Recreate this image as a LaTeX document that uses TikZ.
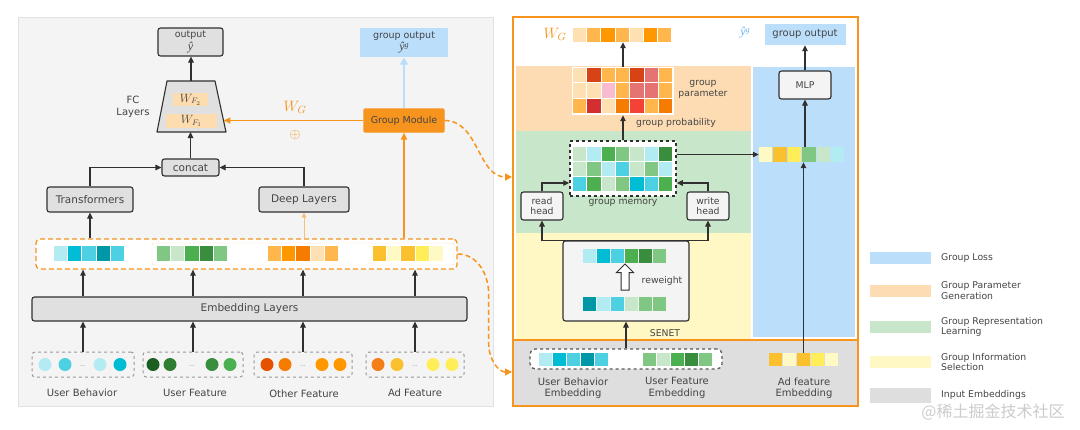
\RequirePackage{fix-cm}
\documentclass[tikz,border=0pt]{standalone}
\usepackage{fontspec}
\setmainfont{DejaVu Sans}
\newfontfamily\cjkfont{Noto Sans CJK SC}
\newfontfamily\yfont{Liberation Serif}
\usepackage{tikz}
\usetikzlibrary{shapes.geometric, shapes.arrows, arrows.meta, positioning, calc}

\definecolor{panelbg}{HTML}{F4F4F4}
\definecolor{panelline}{HTML}{E2E2E2}
\definecolor{boxfill}{HTML}{E0E0E0}
\definecolor{boxline}{HTML}{303030}
\definecolor{txt}{HTML}{444444}
\definecolor{grp}{HTML}{F7941D}
\definecolor{lossblue}{HTML}{BBDEFB}
\definecolor{paramor}{HTML}{FDDCB4}
\definecolor{reprgreen}{HTML}{C8E6C9}
\definecolor{infoyellow}{HTML}{FFF8C4}
\definecolor{inputgray}{HTML}{DEDEDE}
\definecolor{wfpeach}{HTML}{FDDDB0}
\definecolor{yhatblue}{HTML}{64B5F6}
% cell colours
\definecolor{cyA}{HTML}{B2EBF2}
\definecolor{cyB}{HTML}{00BCD4}
\definecolor{cyC}{HTML}{4DD0E1}
\definecolor{cyD}{HTML}{0097A7}
\definecolor{grA}{HTML}{C8E6C9}
\definecolor{grB}{HTML}{81C784}
\definecolor{grC}{HTML}{4CAF50}
\definecolor{grD}{HTML}{388E3C}
\definecolor{grE}{HTML}{1B5E20}
\definecolor{grF}{HTML}{2E7D32}
\definecolor{orA}{HTML}{FFE0B2}
\definecolor{orB}{HTML}{FFB74D}
\definecolor{orC}{HTML}{FF9800}
\definecolor{orD}{HTML}{F57C00}
\definecolor{orE}{HTML}{E65100}
\definecolor{ylA}{HTML}{FFF9C4}
\definecolor{ylB}{HTML}{FBC02D}
\definecolor{ylC}{HTML}{FFEE58}
\definecolor{ylD}{HTML}{F57F17}
\definecolor{rdA}{HTML}{D84315}
\definecolor{rdB}{HTML}{E57373}
\definecolor{rdC}{HTML}{F8BBD0}
\definecolor{rdD}{HTML}{D32F2F}
\definecolor{rdE}{HTML}{F44336}

% a row of coloured cells: x, y, step, height, colours
\newcommand{\cellrow}[5]{%
  \foreach \c [count=\i from 0] in {#5}
    \fill[\c] ({#1+\i*#3},#2) rectangle ++({#3-1},#4);}
% predicted outputs
\newcommand{\yhat}{{\yfont\itshape\fontsize{12}{12}\selectfont ŷ}}
\newcommand{\yhatg}{{\yfont\itshape\fontsize{12}{12}\selectfont ŷ\raisebox{3.5pt}{\fontsize{8}{8}\selectfont g}}}

\begin{document}
\begin{tikzpicture}[x=1pt, y=-1pt,
  box/.style={draw=boxline, line width=1.1pt, rounded corners=2.5pt, fill=boxfill, text=txt, font=\fontsize{10.5}{12}\selectfont, align=center, inner sep=1pt},
  lab/.style={text=txt, font=\fontsize{10}{11.5}\selectfont, align=center, inner sep=1pt},
  small/.style={text=txt, font=\fontsize{9.3}{10.8}\selectfont, align=center, inner sep=1pt},
  inbox/.style={draw=black!40, dashed, line width=1pt, rounded corners=3pt, minimum height=25pt},
  vec/.style={inner sep=0pt, minimum height=14pt},
  arr/.style={draw=boxline, line width=1.1pt, -{Triangle[length=6pt, width=5.5pt]}},
  oarr/.style={draw=grp, line width=1.6pt, -{Triangle[length=7pt, width=6pt]}},
  dcurve/.style={draw=grp, line width=1.5pt, dash pattern=on 5pt off 3pt, -{Triangle[length=7pt, width=7pt]}}
]
  \useasboundingbox (0,0) rectangle (1080,429);
  \fill[white] (0,0) rectangle (1080,429);

  % left: base model
  \fill[panelbg, draw=panelline] (18,17) rectangle (493,406);

  \node[box, font=\fontsize{9.5}{12.5}\selectfont, minimum width=65pt, minimum height=28pt] (out) at (190.5,42) {output\\\yhat};
  \node[box, fill=lossblue, draw=none, rounded corners=0pt, font=\fontsize{9.5}{12.5}\selectfont, minimum width=88pt, minimum height=29pt] (gout) at (404,42.5) {group output\\\yhatg};

  \coordinate (fctl) at (167,81);
  \coordinate (fctr) at (215,81);
  \coordinate (fcbr) at (226,132);
  \coordinate (fcbl) at (157,132);
  \coordinate (fctop) at (191,81);
  \coordinate (fcbot) at (191,132);
  \draw[boxline, fill=boxfill, line width=1.1pt, line join=round] (fctl) -- (fctr) -- (fcbr) -- (fcbl) -- cycle;
  \coordinate (fcin) at ($(fcbr)!0.235!(fctr)$);
  \node[fill=wfpeach, text=txt, font=\fontsize{12}{12}\selectfont, minimum width=35pt, minimum height=13pt, inner sep=0pt] (wf2) at (190.5,99.5) {$W_{F_2}$};
  \node[fill=wfpeach, text=txt, font=\fontsize{12}{12}\selectfont, minimum width=51pt, minimum height=14pt, inner sep=0pt] (wf1) at (191.5,121) {$W_{F_1}$};
  \node[lab] (fclab) at (133,107) {FC\\Layers};

  \node[box, minimum width=57pt, minimum height=17pt] (concat) at (190.5,167.5) {concat};
  \node[box, minimum width=86pt, minimum height=25pt] (tf) at (90,199.5) {Transformers};
  \node[box, minimum width=90pt, minimum height=25pt] (dl) at (304,199.5) {Deep Layers};

  \node[box, fill=grp, draw=grp, rounded corners=1pt, font=\fontsize{9.5}{11}\selectfont, minimum width=80pt, minimum height=23pt] (gm) at (404,120.5) {Group Module};
  \node[text=grp, font=\fontsize{15}{17}\selectfont] (wgl) at (295,107) {$W_G$};
  \node[text=grp, font=\fontsize{14}{16}\selectfont] (plus) at (295,135) {$\oplus$};

  % embedding vectors
  \node[draw=grp, dash pattern=on 5pt off 3pt, line width=1.3pt, fill=white, rounded corners=4pt, minimum width=421pt, minimum height=30pt] (embrow) at (246.5,254) {};
  \draw[grp!35, rounded corners=2pt] (152,243) rectangle (454,265);
  \cellrow{54}{246}{14.2}{15}{cyA,cyB,cyC,cyD,cyC}
  \cellrow{157}{246}{14.2}{15}{grB,grA,grC,grD,grB}
  \cellrow{268}{246}{14.2}{15}{orB,orC,orD,orA,orB}
  \cellrow{373}{246}{14.2}{15}{ylB,ylA,ylB,ylC,ylA}

  \node[box, minimum width=435pt, minimum height=24pt] (emblayer) at (249.5,309) {Embedding Layers};

  % raw features
  \node[inbox, minimum width=102pt] (inUB) at (83,364.5) {};
  \node[inbox, minimum width=100pt] (inUF) at (193,364.5) {};
  \node[inbox, minimum width=98pt] (inOF) at (303,364.5) {};
  \node[inbox, minimum width=98pt] (inAD) at (415,364.5) {};
  \foreach \x/\c in {45/cyA, 65/cyC, 100/cyA, 120/cyB,
                     153/grE, 170/grF, 212/grD, 230/grC,
                     267/orE, 285/orD, 322/orC, 340/orC,
                     378/ylD, 397/ylB, 433/ylC, 452/ylC}
    \fill[\c] (\x,364.5) circle (6.5);
  \foreach \x in {83,192,303,415}
    \node[text=black!45, font=\fontsize{6}{7}\selectfont] at (\x,366) {...};

  \node[lab] (labUB) at (82,393) {User Behavior};
  \node[lab] (labUF) at (195,393) {User Feature};
  \node[lab] (labOF) at (304,394) {Other Feature};
  \node[lab] (labAD) at (415,393) {Ad Feature};

  \draw[arr] (fctop) -- (fctop |- out.south);
  \draw[arr] (concat.north) -- (concat.north |- fcbot);
  \draw[arr] (tf.north) |- (concat.west);
  \draw[arr] (dl.north) |- (concat.east);
  \draw[arr] (tf.south |- embrow.north) -- (tf.south);
  \draw[draw=grp!60, line width=1pt, -{Triangle[length=5pt, width=4.5pt]}] (dl.south |- embrow.north) -- (dl.south);
  \draw[oarr] (gm.south |- embrow.north) -- (gm.south);
  \draw[lossblue, line width=2.5pt, -{Triangle[length=7pt, width=8pt]}] (gm.north) -- (gout.south);
  \draw[oarr] (gm.west) -- (gm.west -| fcin);
  \foreach \n in {UB,UF,OF,AD} {
    \draw[arr] (in\n.north) -- (in\n.north |- emblayer.south);
    \draw[arr] (in\n.north |- emblayer.north) -- (in\n.north |- embrow.south);
  }

  % right: group module
  \fill[paramor] (516,66) rectangle (751,131);
  \fill[reprgreen] (516,131) rectangle (751,233);
  \fill[infoyellow] (516,233) rectangle (751,339);
  \fill[lossblue] (753,67) rectangle (855,337);
  \fill[inputgray] (513,340) rectangle (858,406);
  \draw[grp, line width=2pt] (513,340) -- (858,340);
  \node[draw=grp, line width=2pt, minimum width=345pt, minimum height=389pt, inner sep=0pt] (rpanel) at (685.5,211.5) {};

  \node[text=grp, font=\fontsize{15}{17}\selectfont] (wgr) at (555,34) {$W_G$};
  \node[vec, minimum width=99pt] (wgvec) at (622.5,35) {};
  \cellrow{573}{28}{14.2}{14}{orA,orB,orC,orB,orA,orC,orB}
  \node[text=yhatblue, inner sep=0pt] (yg) at (745,33) {\yhatg};
  \node[lab, fill=lossblue, minimum width=81pt, minimum height=21pt] (gout2) at (805,34.5) {group output};

  % group parameter
  \node[vec, fill=white, minimum width=102pt, minimum height=48pt] (pmat) at (623,91) {};
  \cellrow{573}{68}{14.3}{14.3}{orA,rdA,orB,orB,rdA,rdB,orB}
  \cellrow{573}{83.3}{14.3}{14.3}{orA,orA,rdC,orB,rdB,rdB,orB}
  \cellrow{573}{98.6}{14.3}{14.3}{orB,rdD,orA,orD,rdE,orB,orD}
  \node[small] (plab) at (703,89.5) {group\\parameter};
  \node[small] (prob) at (676,123) {group probability};

  % group memory
  \node[draw=boxline, dashed, line width=1.5pt, fill=white, minimum width=106pt, minimum height=55pt, inner sep=0pt] (gmem) at (623,168.5) {};
  \cellrow{573}{147}{14.3}{14}{grA,cyA,grC,grB,grA,cyA,grD}
  \cellrow{573}{162}{14.3}{14}{grA,grB,cyA,cyC,grA,grB,cyA}
  \cellrow{573}{177}{14.3}{14}{cyC,grC,grA,grB,cyB,cyC,grC}
  \node[small] (mlab) at (623,203) {group memory};
  \node[box, fill=panelbg, font=\fontsize{9.3}{10.8}\selectfont, minimum width=42pt, minimum height=28pt] (rh) at (542,206) {read\\head};
  \node[box, fill=panelbg, font=\fontsize{9.3}{10.8}\selectfont, minimum width=42pt, minimum height=28pt] (wh) at (708,206) {write\\head};

  % group loss
  \node[vec, minimum width=86pt, minimum height=15pt] (gvec) at (802,154.5) {};
  \cellrow{759}{147}{14.4}{15}{ylA,ylB,ylC,grB,grA,cyA}
  \node[box, fill=panelbg, font=\fontsize{9.3}{10.8}\selectfont, minimum width=52pt, minimum height=28pt] (mlp) at (805,85) {MLP};

  % SENET
  \node[box, fill=panelbg, minimum width=126pt, minimum height=80pt] (senet) at (626,281) {};
  \cellrow{583}{249}{14}{14}{cyA,cyB,cyC,grC,grD,grB}
  \cellrow{583}{297}{14}{14}{cyD,cyA,cyC,grA,grB,grB}
  \node[single arrow, draw=boxline, fill=white, line width=1pt, shape border rotate=90, minimum height=26pt, inner sep=3.5pt, single arrow head extend=4.5pt] (rw) at (625,279) {};
  \node[small] (rwlab) at (662,281) {reweight};
  \node[small] (selab) at (665,333) {SENET};

  % input embeddings
  \node[draw=boxline!80, dashed, line width=1.3pt, fill=white, rounded corners=5pt, minimum width=192pt, minimum height=20pt, inner sep=0pt] (inemb) at (626,359) {};
  \cellrow{539}{353}{14}{13}{cyA,cyB,cyC,cyD,cyC}
  \cellrow{643}{353}{14}{13}{grB,grA,grC,grD,grB}
  \node[vec, minimum width=71pt, minimum height=13pt] (advec) at (803.5,359.5) {};
  \cellrow{769}{353}{14}{13}{ylB,ylA,ylB,ylC,ylA}
  \node[lab] (ubemb) at (573,388) {User Behavior\\Embedding};
  \node[lab] (ufemb) at (677,388) {User Feature\\Embedding};
  \node[lab] (ademb) at (804,388) {Ad feature\\Embedding};

  \draw[arr] (inemb.north) -- (inemb.north |- senet.south);
  \draw[arr] (senet.north) -| (rh.south);
  \draw[arr] (senet.north) -| (wh.south);
  \draw[arr] (rh.north) |- ([yshift=-14.5pt]gmem.west);
  \draw[arr] (wh.north) |- ([yshift=-14.5pt]gmem.east);
  \draw[arr] (gmem.north) -- (gmem.north |- pmat.south);
  \draw[arr] (pmat.north) -- (pmat.north |- wgvec.south);
  \draw[arr] (gmem.east |- gvec.west) -- (gvec.west);
  \draw[arr] (advec.north) -- (advec.north |- gvec.south);
  \draw[arr] (mlp.south |- gvec.north) -- (mlp.south);
  \draw[arr] (mlp.north) -- (mlp.north |- gout2.south);

  % links between the two parts
  \draw[dcurve] (gm.east) to[out=0, in=180] ([yshift=-161pt]rpanel.north west);
  \draw[dcurve] (embrow.east) to[out=0, in=90] ++(31,40) -- ++(0,50) to[out=-90, in=180] ([yshift=-356pt]rpanel.north west);

  % legend
  \foreach \y/\h/\c/\t [count=\k] in {258/12/lossblue/{Group Loss},
      291/12/paramor/{Group Parameter\\Generation},
      327/12/reprgreen/{Group Representation\\Learning},
      362/12/infoyellow/{Group Information\\Selection},
      395/15/inputgray/{Input Embeddings}} {
    \fill[\c] (870,{\y-\h/2}) rectangle (931,{\y+\h/2});
    \node[small, anchor=west, align=left] (leg\k) at (940,\y) {\t};
  }
  \node[text=black!20, font=\cjkfont\fontsize{16}{18}\selectfont] (wm) at (993,412) {@稀土掘金技术社区};
\end{tikzpicture}
\end{document}
